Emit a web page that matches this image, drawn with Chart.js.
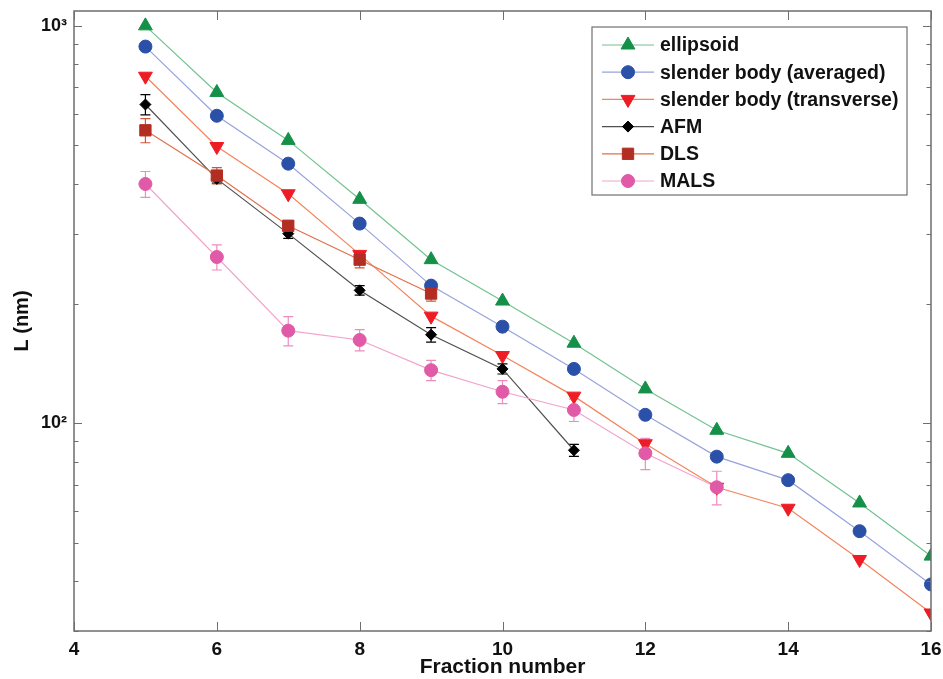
<!DOCTYPE html>
<html>
<head>
<meta charset="utf-8">
<script src="https://cdn.jsdelivr.net/npm/chart.js@4"></script>
<style>
  html, body { margin: 0; padding: 0; background: #fff; }
  #wrap { width: 943px; height: 679px; position: relative; }
</style>
</head>
<body>
<div id="wrap"><canvas id="c" width="943" height="679"></canvas></div>
<script>
// ---- data ----
const fractions = [5, 6, 7, 8, 9, 10, 11, 12, 13, 14, 15, 16];
const ellipsoid = [1000, 680, 515, 366, 258, 203, 159, 122, 96, 84, 63, 46.3];
const slenderAvg = [887, 594, 450, 318, 222, 175, 137, 105, 82.4, 71.9, 53.5, 39.3];
const slenderTrans = [747, 497, 378, 266, 186, 148, 117, 88.8, 69, 61.1, 45.4, 33.3];
const afmX = [5, 6, 7, 8, 9, 10, 11];
const afm = [634, 412, 300, 216, 167, 137, 85.5];
const afmErr = [37, 10, 8, 6, 7, 4, 3];
const dlsX = [5, 6, 7, 8, 9];
const dls = [546, 420, 314, 258, 212];
const dlsErr = [38, 20, 8, 12, 9];
const malsX = [5, 6, 7, 8, 9, 10, 11, 12, 13];
const mals = [400, 262, 171, 162, 136, 120, 108, 84, 69];
const malsErr = [30, 19, 14.5, 10, 8, 8, 7, 7.6, 6.7];
const xTicks = [4, 6, 8, 10, 12, 14, 16];
const yTicks = [30, 40, 50, 60, 70, 80, 90, 100, 200, 300, 400, 500, 600, 700, 800, 900, 1000];
const yTickLabels = {100: '10²', 1000: '10³'};

const pts = (xs, ys) => xs.map((x, i) => ({x: x, y: ys[i]}));

const datasets = [
  {label: 'ellipsoid', data: pts(fractions, ellipsoid), borderColor: '#72c290', backgroundColor: '#159048',
   pointBorderColor: '#159048', pointStyle: 'triangle', pointRadius: 8},
  {label: 'slender body (averaged)', data: pts(fractions, slenderAvg), borderColor: '#97a3dc', backgroundColor: '#2a50a8',
   pointBorderColor: '#2a50a8', pointStyle: 'circle', pointRadius: 6.5},
  {label: 'slender body (transverse)', data: pts(fractions, slenderTrans), borderColor: '#f4845c', backgroundColor: '#ee1c24',
   pointBorderColor: '#ee1c24', pointStyle: 'triangle', pointRotation: 180, pointRadius: 8},
  {label: 'AFM', data: pts(afmX, afm), borderColor: '#505050', backgroundColor: '#000000',
   pointBorderColor: '#000000', pointStyle: 'rectRot', pointRadius: 5.5, err: afmErr, errColor: '#000000'},
  {label: 'DLS', data: pts(dlsX, dls), borderColor: '#e2704c', backgroundColor: '#b32e22',
   pointBorderColor: '#b32e22', pointStyle: 'rect', pointRadius: 8, err: dlsErr, errColor: '#d0563a'},
  {label: 'MALS', data: pts(malsX, mals), borderColor: '#f3a3cb', backgroundColor: '#e05aa8',
   pointBorderColor: '#e05aa8', pointStyle: 'circle', pointRadius: 6.5, err: malsErr, errColor: '#ee8cc0'}
];
datasets.forEach((d, i) => {
  d.borderWidth = 1.2; d.pointBorderWidth = 1; d.fill = false; d.tension = 0;
  d.pointHoverRadius = d.pointRadius; d.order = datasets.length - i;
});

const FONT = '"Liberation Sans", Arial, Helvetica, sans-serif';

const matlabPlugin = {
  id: 'matlab',
  beforeDatasetsDraw(chart) {
    const ctx = chart.ctx;
    const xs = chart.scales.x, ys = chart.scales.y;
    ctx.save();
    chart.data.datasets.forEach(ds => {
      if (!ds.err) return;
      ctx.strokeStyle = ds.errColor;
      ctx.lineWidth = 1.2;
      ds.data.forEach((p, i) => {
        const px = xs.getPixelForValue(p.x);
        const top = ys.getPixelForValue(p.y + ds.err[i]);
        const bot = ys.getPixelForValue(p.y - ds.err[i]);
        ctx.beginPath();
        ctx.moveTo(px, top); ctx.lineTo(px, bot);
        ctx.moveTo(px - 5, top); ctx.lineTo(px + 5, top);
        ctx.moveTo(px - 5, bot); ctx.lineTo(px + 5, bot);
        ctx.stroke();
      });
    });
    ctx.restore();
  },
  afterDraw(chart) {
    const ctx = chart.ctx;
    const a = chart.chartArea;
    const xs = chart.scales.x, ys = chart.scales.y;
    ctx.save();
    ctx.strokeStyle = '#6e6e6e';
    ctx.lineWidth = 1.5;
    ctx.strokeRect(a.left, a.top, a.right - a.left, a.bottom - a.top);
    ctx.lineWidth = 1;
    ctx.beginPath();
    xTicks.forEach(v => {
      const px = Math.round(xs.getPixelForValue(v)) + 0.5;
      ctx.moveTo(px, a.bottom); ctx.lineTo(px, a.bottom - 9);
      ctx.moveTo(px, a.top); ctx.lineTo(px, a.top + 9);
    });
    yTicks.forEach(v => {
      const py = Math.round(ys.getPixelForValue(v)) + 0.5;
      const len = yTickLabels[v] ? 8 : 4.5;
      ctx.moveTo(a.left, py); ctx.lineTo(a.left + len, py);
      ctx.moveTo(a.right, py); ctx.lineTo(a.right - len, py);
    });
    ctx.stroke();

    // legend box
    const lx = 592, ly = 27, lw = 315, lh = 168;
    ctx.fillStyle = '#ffffff';
    ctx.fillRect(lx, ly, lw, lh);
    ctx.strokeStyle = '#707070';
    ctx.lineWidth = 1.2;
    ctx.strokeRect(lx, ly, lw, lh);
    ctx.font = 'bold 19.5px ' + FONT;
    ctx.textBaseline = 'middle';
    ctx.textAlign = 'left';
    chart.data.datasets.forEach((ds, i) => {
      const y = 45 + i * 27.2;
      ctx.strokeStyle = ds.borderColor;
      ctx.lineWidth = 1.2;
      ctx.beginPath();
      ctx.moveTo(602, y); ctx.lineTo(654, y);
      ctx.stroke();
      ctx.fillStyle = ds.backgroundColor;
      ctx.strokeStyle = ds.pointBorderColor;
      ctx.lineWidth = 1;
      Chart.helpers.drawPoint(ctx, {
        pointStyle: ds.pointStyle,
        rotation: ds.pointRotation || 0,
        radius: ds.pointRadius,
        borderWidth: 1
      }, 628, y);
      ctx.fillStyle = '#111';
      ctx.fillText(ds.label, 660, y + 1);
    });
    ctx.restore();
  }
};

new Chart(document.getElementById('c'), {
  type: 'line',
  data: {datasets: datasets},
  plugins: [matlabPlugin],
  options: {
    responsive: false,
    animation: false,
    events: [],
    layout: {padding: {left: 0, right: 12, top: 11, bottom: 0}},
    plugins: {legend: {display: false}, tooltip: {enabled: false}},
    scales: {
      x: {
        type: 'linear', min: 4, max: 16,
        afterBuildTicks: s => { s.ticks = xTicks.map(v => ({value: v})); },
        afterFit: s => { s.height = 48; },
        grid: {display: false},
        border: {display: false},
        ticks: {color: '#111', font: {family: FONT, size: 19, weight: 'bold'}, padding: -1, maxRotation: 0},
        title: {display: true, text: 'Fraction number', color: '#111', font: {family: FONT, size: 21, weight: 'bold'}, padding: {top: 0, bottom: -1}}
      },
      y: {
        type: 'logarithmic', min: 30, max: 1090,
        afterBuildTicks: s => { s.ticks = yTicks.map(v => ({value: v})); },
        afterFit: s => { s.width = 74; },
        grid: {display: false},
        border: {display: false},
        ticks: {color: '#111', font: {family: FONT, size: 18, weight: 'bold'}, padding: -1, autoSkip: false,
          callback: v => yTickLabels[v] || ''},
        title: {display: true, text: 'L (nm)', color: '#111', font: {family: FONT, size: 20, weight: 'bold'}, padding: {top: 10, bottom: 0}}
      }
    }
  }
});
</script>
</body>
</html>
